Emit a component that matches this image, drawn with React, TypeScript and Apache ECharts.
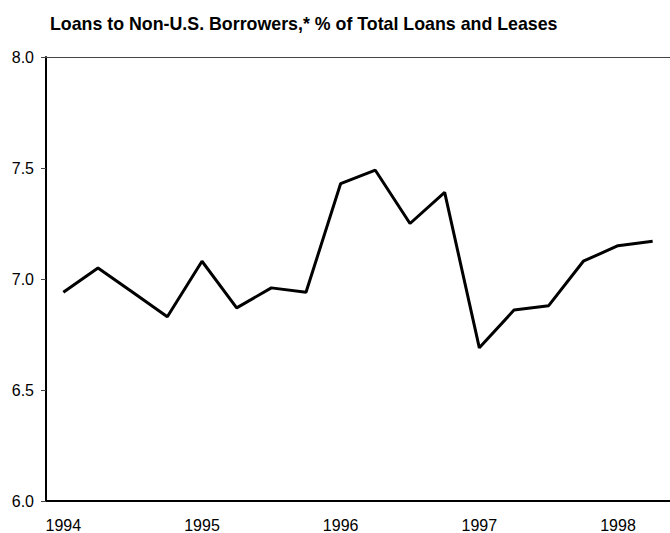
import React, { useEffect, useRef } from "react";
import * as echarts from "echarts";

const categories = [
  "1994", "", "", "",
  "1995", "", "", "",
  "1996", "", "", "",
  "1997", "", "", "",
  "1998", "",
];
const values = [
  6.94, 7.05, 6.94, 6.83,
  7.08, 6.87, 6.96, 6.94,
  7.43, 7.49, 7.25, 7.39,
  6.69, 6.86, 6.88, 7.08,
  7.15, 7.17,
];
const titleText = "Loans to Non-U.S. Borrowers,* % of Total Loans and Leases";

export default function App() {
  const ref = useRef<HTMLDivElement>(null);
  useEffect(() => {
    if (!ref.current) return;
    const chart = echarts.init(ref.current, undefined, { renderer: "svg" });
    const font = "Liberation Sans, Arial, sans-serif";
    chart.setOption({
      animation: false,
      backgroundColor: "#fff",
      title: {
        text: titleText,
        left: 45,
        top: 10,
        textStyle: { fontFamily: font, fontSize: 17.8, fontWeight: "bold", color: "#000" },
      },
      grid: { left: 46, top: 57, width: 628, height: 444, containLabel: false },
      xAxis: [
        {
          type: "category",
          data: categories,
          boundaryGap: true,
          axisLine: { lineStyle: { color: "#000", width: 2 } },
          axisTick: { inside: true, length: 5, interval: 0, lineStyle: { color: "#444", width: 1 } },
          axisLabel: { interval: 0, margin: 16, fontFamily: font, fontSize: 16, color: "#000" },
          splitLine: { show: false },
        },
        {
          type: "category",
          data: categories,
          position: "top",
          axisLine: { lineStyle: { color: "#444", width: 1 } },
          axisTick: { show: false },
          axisLabel: { show: false },
        },
      ],
      yAxis: {
        type: "value",
        min: 6,
        max: 8,
        interval: 0.5,
        axisLine: { show: true, lineStyle: { color: "#000", width: 2 } },
        axisTick: { show: true, inside: false, length: 5, lineStyle: { color: "#444", width: 1 } },
        axisLabel: {
          margin: 12,
          fontFamily: font,
          fontSize: 16,
          color: "#000",
          formatter: (v: number) => v.toFixed(1),
        },
        splitLine: { show: false },
      },
      series: [
        {
          type: "line",
          data: values,
          symbol: "none",
          lineStyle: { color: "#000", width: 3 },
        },
      ],
    });
    return () => chart.dispose();
  }, []);
  return <div ref={ref} style={{ width: 670, height: 533, position: "absolute", left: 0, top: 0 }} />;
}
